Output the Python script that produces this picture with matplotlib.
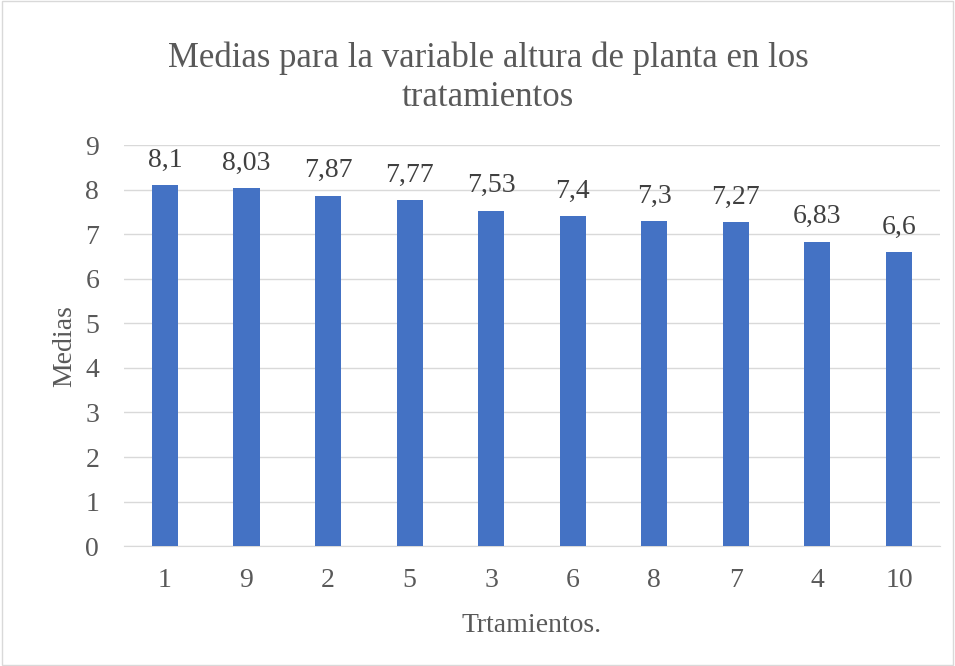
import matplotlib
matplotlib.use("Agg")
import matplotlib.pyplot as plt
from matplotlib.patches import Rectangle

categories = ["1", "9", "2", "5", "3", "6", "8", "7", "4", "10"]
values = [8.1, 8.03, 7.87, 7.77, 7.53, 7.4, 7.3, 7.27, 6.83, 6.6]
labels = ["8,1", "8,03", "7,87", "7,77", "7,53", "7,4", "7,3", "7,27", "6,83", "6,6"]

plt.rcParams['font.family'] = ['Liberation Serif', 'DejaVu Serif']
fig = plt.figure(figsize=(9.55, 6.66), dpi=100)
fig.patches.append(Rectangle((0.002, 0.002), 0.996, 0.996, transform=fig.transFigure,
                             fill=False, edgecolor='#d9d9d9', linewidth=1))
ax = fig.add_axes([0.130, 0.180, 0.854, 0.602])
x = range(len(categories))
ax.bar(x, values, width=0.32, color='#4472C4', zorder=3)
for i, (v, l) in enumerate(zip(values, labels)):
    ax.annotate(l, (i, v), xytext=(0, 9), textcoords='offset points',
                ha='center', va='bottom', fontsize=20, color='#404040')
ax.set_ylim(0, 9)
ax.set_xlim(-0.5, len(categories) - 0.5)
ax.set_yticks(range(0, 10))
ax.set_xticks(list(x))
ax.set_xticklabels(categories)
ax.tick_params(axis='both', labelsize=20, colors='#595959', length=0)
ax.tick_params(axis='x', pad=16)
ax.tick_params(axis='y', pad=18)
ax.grid(axis='y', color='#d9d9d9', linewidth=1, zorder=0)
for s in ['top', 'right', 'left']:
    ax.spines[s].set_visible(False)
ax.spines['bottom'].set_color('#d9d9d9')
ax.set_xlabel("Trtamientos.", fontsize=20, color='#595959', labelpad=14)
ax.set_ylabel("Medias", fontsize=20, color='#595959', labelpad=6)
fig.text(0.511, 0.912, "Medias para la variable altura de planta en los", ha='center', va='center',
         fontsize=25, color='#595959')
fig.text(0.511, 0.853, "tratamientos", ha='center', va='center', fontsize=25, color='#595959')
fig.savefig("out.png", dpi=100)
